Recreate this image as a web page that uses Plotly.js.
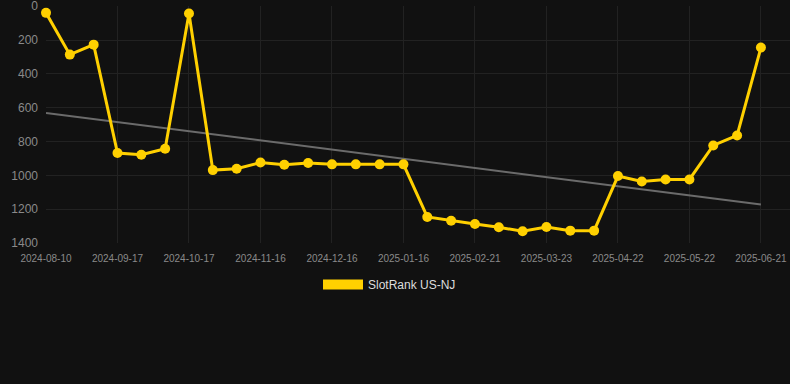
<!DOCTYPE html>
<html>
<head>
<meta charset="utf-8">
<script src="https://cdn.plot.ly/plotly-3.0.1.min.js"></script>
<style>
html,body{margin:0;padding:0;background:#111111;}
#chart{width:790px;height:384px;}
</style>
</head>
<body>
<div id="chart"></div>
<script>
const dates = [
  "2024-08-10","2024-08-23","2024-09-05","2024-09-17","2024-09-27","2024-10-07",
  "2024-10-17","2024-10-27","2024-11-06","2024-11-16","2024-11-26","2024-12-06",
  "2024-12-16","2024-12-26","2025-01-05","2025-01-16","2025-01-28","2025-02-09",
  "2025-02-21","2025-03-03","2025-03-13","2025-03-23","2025-04-02","2025-04-12",
  "2025-04-22","2025-05-02","2025-05-12","2025-05-22","2025-06-01","2025-06-11",
  "2025-06-21"
];
const ranks = [
  39, 286, 227, 868, 878, 843,
  43, 969, 961, 924, 937, 927,
  935, 935, 935, 935, 1246, 1268,
  1288, 1307, 1331, 1305, 1327, 1327,
  1004, 1036, 1024, 1024, 823, 764,
  244
];
const tickLabels = [
  "2024-08-10","2024-09-17","2024-10-17","2024-11-16","2024-12-16","2025-01-16",
  "2025-02-21","2025-03-23","2025-04-22","2025-05-22","2025-06-21"
];
const yTicks = [0, 200, 400, 600, 800, 1000, 1200, 1400];
const seriesName = "SlotRank US-NJ";

// least-squares trend line over the series
const n = ranks.length;
const idx = ranks.map((_, i) => i);
const mx = idx.reduce((a, b) => a + b, 0) / n;
const my = ranks.reduce((a, b) => a + b, 0) / n;
let sxy = 0, sxx = 0;
for (let i = 0; i < n; i++) { sxy += (i - mx) * (ranks[i] - my); sxx += (i - mx) * (i - mx); }
const slope = sxy / sxx;
const icpt = my - slope * mx;
const trendX = [dates[0], dates[n - 1]];
const trendY = [icpt, icpt + slope * (n - 1)];

const yellow = "#FFD000";

const traces = [
  {
    x: trendX, y: trendY, type: "scatter", mode: "lines",
    line: {color: "#6b6b6b", width: 2}, hoverinfo: "skip", showlegend: false
  },
  {
    x: dates, y: ranks, type: "scatter", mode: "lines+markers",
    line: {color: yellow, width: 3}, marker: {color: yellow, size: 10},
    cliponaxis: false, showlegend: false, name: seriesName
  },
  {
    x: [null], y: [null], type: "scatter", mode: "lines",
    line: {color: yellow, width: 10}, name: seriesName, showlegend: true
  }
];

const layout = {
  width: 790, height: 384,
  paper_bgcolor: "#111111", plot_bgcolor: "#111111",
  margin: {l: 46, r: 0, t: 6, b: 141},
  font: {family: "Liberation Sans, Arial, sans-serif", color: "#8a8a8a"},
  xaxis: {
    type: "category", categoryorder: "array", categoryarray: dates,
    range: [0, 31.22], tickmode: "array", tickvals: tickLabels, ticktext: tickLabels,
    showgrid: true, gridcolor: "#222222", gridwidth: 1, zeroline: false,
    showline: false, ticks: "", tickfont: {size: 10, color: "#8a8a8a"},
    ticklabelstandoff: 8, ticklabeloverflow: "allow", fixedrange: true
  },
  yaxis: {
    range: [1400, -1.5], tickmode: "array", tickvals: yTicks,
    showgrid: true, gridcolor: "#222222", gridwidth: 1, zeroline: false,
    showline: false, ticks: "", tickfont: {size: 12, color: "#8a8a8a"},
    ticklabelstandoff: 7, ticklabeloverflow: "allow", fixedrange: true
  },
  showlegend: true,
  legend: {
    orientation: "h", x: 0.4617, xanchor: "center", y: -0.114, yanchor: "top",
    font: {size: 12, color: "#dddddd"}, itemwidth: 40, bgcolor: "rgba(0,0,0,0)"
  }
};

Plotly.newPlot("chart", traces, layout, {displayModeBar: false, staticPlot: true});
</script>
</body>
</html>
